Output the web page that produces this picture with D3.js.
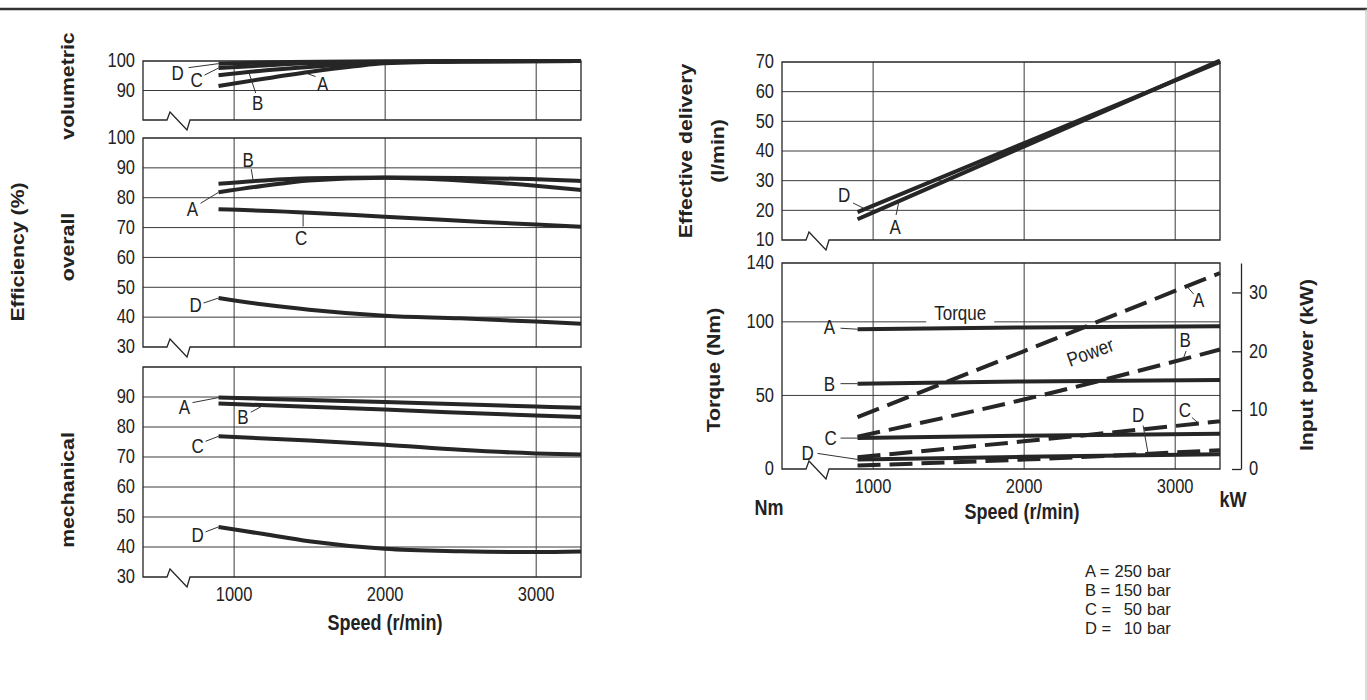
<!DOCTYPE html>
<html>
<head>
<meta charset="utf-8">
<script src="https://cdn.jsdelivr.net/npm/d3@7"></script>
<style>
  body { margin: 0; background: #fff; }
  text { font-family: "Liberation Sans", Arial, Helvetica, sans-serif; fill: #222; }
  .title { font-weight: bold; font-size: 18px; }
  .lbl { font-size: 17px; }
  .legend { font-size: 16.5px; }
</style>
</head>
<body>
<svg id="chart" width="1367" height="700"></svg>
<script>
// ---- data ----
var speedTicks = [1000, 2000, 3000]

// volumetric efficiency (%)
var volA = [[900, 91.5], [1200, 94], [1500, 96.3], [1800, 98.2], [2000, 99.2], [2500, 99.8], [3300, 100]]
var volB = [[900, 95.2], [1200, 96.8], [1500, 98], [1800, 99], [2000, 99.5], [2500, 99.9], [3300, 100]]
var volC = [[900, 97.6], [1200, 98.5], [1500, 99.2], [2000, 99.7], [3300, 100]]
var volD = [[900, 99.1], [1200, 99.5], [2000, 99.9], [3300, 100]]

// overall efficiency (%)
var ovA = [[900, 81.8], [1200, 84], [1500, 85.8], [2000, 86.7], [2500, 85.8], [3000, 84], [3300, 82.6]]
var ovB = [[900, 84.7], [1200, 85.8], [1500, 86.5], [2000, 86.8], [2500, 86.6], [3000, 86.2], [3300, 85.6]]
var ovC = [[900, 76.1], [1500, 75], [2000, 73.6], [2500, 72.3], [3000, 71], [3300, 70.3]]
var ovD = [[900, 46.4], [1200, 44.2], [1500, 42.5], [2000, 40.5], [2500, 39.6], [3000, 38.5], [3300, 37.8]]

// mechanical efficiency (%)
var meA = [[900, 89.8], [2000, 88.3], [3000, 86.8], [3300, 86.4]]
var meB = [[900, 87.8], [2000, 85.8], [3000, 83.8], [3300, 83.3]]
var meC = [[900, 76.9], [1500, 75.5], [2000, 74.1], [2500, 72.4], [3000, 71.2], [3300, 70.8]]
var meD = [[900, 46.7], [1200, 44.3], [1500, 41.9], [2000, 39.4], [2500, 38.6], [3000, 38.3], [3300, 38.5]]

// effective delivery (l/min)
var delA = [[900, 17], [2000, 41.5], [3300, 70.5]]
var delD = [[900, 19.4], [2000, 42.6], [3300, 70]]

// torque (Nm), solid
var tqA = [[900, 95], [2000, 96.2], [3300, 97]]
var tqB = [[900, 58], [2000, 59.5], [3300, 60.5]]
var tqC = [[900, 21], [2000, 22.6], [3300, 24]]
var tqD = [[900, 6.5], [2000, 8.3], [3300, 10]]

// input power (kW), dashed
var pwA = [[900, 8.8], [2000, 20], [3300, 33.3]]
var pwB = [[900, 5.5], [2000, 11.8], [3300, 20.3]]
var pwC = [[900, 2.0], [2000, 4.7], [3300, 8.1]]
var pwD = [[900, 0.6], [2000, 1.6], [3300, 3.2]]

var legendLetters = ['A', 'B', 'C', 'D']
var legendBar = [250, 150, 50, 10]

// ---- layout ----
var svg = d3.select('#chart')
var INK = '#262626'
var STRETCH = 1.18   // the scan is a little taller than wide

function valueAt (series, rpm) {
  var i = d3.bisector(function (d) { return d[0] }).left(series, rpm)
  if (i <= 0) return series[0][1]
  if (i >= series.length) return series[series.length - 1][1]
  var a = series[i - 1], b = series[i]
  return a[1] + (rpm - a[0]) / (b[0] - a[0]) * (b[1] - a[1])
}

function put (sel, x, y) {
  return sel.attr('transform', 'translate(' + x + ',' + y + ') scale(1,' + STRETCH + ')')
}

function panel (x, y, yTicks, gridTicks, showX) {
  var g = svg.append('g')
  var x0 = x.range()[0], x1 = x.range()[1]
  var bot = y.range()[0], top = y.range()[1]
  // horizontal grid
  g.selectAll('line.hg').data(gridTicks).enter().append('line')
    .attr('x1', x0).attr('x2', x1)
    .attr('y1', function (d) { return y(d) }).attr('y2', function (d) { return y(d) })
    .attr('stroke', '#3a3a3a').attr('stroke-width', 1)
  // y labels
  var ya = g.append('g').attr('transform', 'translate(' + x0 + ',0)')
    .call(d3.axisLeft(y).tickValues(yTicks).tickSize(0).tickPadding(8))
  ya.select('.domain').remove()
  ya.attr('font-size', 16.5).attr('font-family', null)
  ya.selectAll('text').attr('transform', 'scale(1,' + STRETCH + ')').attr('dy', '0.3em')
  // vertical grid + x labels
  var xa = g.append('g').attr('transform', 'translate(0,' + bot + ')')
    .call(d3.axisBottom(x).tickValues(speedTicks).tickSize(-(bot - top)).tickPadding(9)
      .tickFormat(showX ? d3.format('d') : ''))
  xa.select('.domain').remove()
  xa.selectAll('.tick line').attr('stroke', '#3a3a3a')
  xa.attr('font-size', 16.5).attr('font-family', null)
  xa.selectAll('text').attr('transform', 'scale(1,' + STRETCH + ')')
  // frame with axis break
  var p = d3.path()
  p.moveTo(x0, top); p.lineTo(x1, top); p.lineTo(x1, bot)
  p.lineTo(x0 + 47, bot); p.lineTo(x0 + 44, bot + 10); p.lineTo(x0 + 27, bot - 8)
  p.lineTo(x0 + 24, bot); p.lineTo(x0, bot); p.closePath()
  g.append('path').attr('d', p.toString()).attr('fill', 'none')
    .attr('stroke', INK).attr('stroke-width', 1.3)
  return g
}

function drawLine (g, x, y, series, dashed) {
  var line = d3.line()
    .x(function (d) { return x(d[0]) })
    .y(function (d) { return y(d[1]) })
    .curve(d3.curveMonotoneX)
  g.append('path').attr('d', line(series))
    .attr('fill', 'none').attr('stroke', INK).attr('stroke-width', 4)
    .attr('stroke-dasharray', dashed ? '23,9' : null)
}

// ann: [label, series, rpm, dx, dy, lx, ly]
function annotate (g, x, y, anns) {
  anns.forEach(function (a) {
    var ax = x(a[2]), ay = y(valueAt(a[1], a[2]))
    g.append('line').attr('x1', ax + a[5]).attr('y1', ay + a[6]).attr('x2', ax).attr('y2', ay)
      .attr('stroke', '#333').attr('stroke-width', 1)
    put(g.append('text').attr('class', 'lbl'), ax + a[3], ay + a[4])
      .attr('dy', '0.36em').attr('text-anchor', 'middle').text(a[0])
  })
}

// scales
var xL = d3.scaleLinear().domain([400, 3300]).range([143, 581])
var xR = d3.scaleLinear().domain([400, 3300]).range([782, 1220])

var yVol = d3.scaleLinear().domain([80, 100]).range([120, 61])
var yOv = d3.scaleLinear().domain([30, 100]).range([347, 138])
var yMe = d3.scaleLinear().domain([30, 100]).range([577, 367])
var yDel = d3.scaleLinear().domain([10, 70]).range([240, 62])
var yTq = d3.scaleLinear().domain([0, 140]).range([469, 263])
var yPw = d3.scaleLinear().domain([0, 35]).range([469, 263])

// volumetric
var gV = panel(xL, yVol, [90, 100], [90], false)
;[volA, volB, volC, volD].forEach(function (s) { drawLine(gV, xL, yVol, s) })
annotate(gV, xL, yVol, [
  ['D', volD, 900, -41, 9, -30, 4],
  ['C', volC, 900, -22, 12, -14, 7],
  ['B', volB, 1100, 9, 31, 7, 21],
  ['A', volA, 1470, 18, 11, 11, 4]
])

// overall
var gO = panel(xL, yOv, d3.range(30, 101, 10), d3.range(40, 91, 10), false)
;[ovA, ovB, ovC, ovD].forEach(function (s) { drawLine(gO, xL, yOv, s) })
annotate(gO, xL, yOv, [
  ['B', ovB, 1130, -5, -21, -2, -12],
  ['A', ovA, 900, -26, 16, -18, 11],
  ['C', ovC, 1460, -2, 25, 0, 14],
  ['D', ovD, 900, -23, 7, -15, 5]
])

// mechanical
var gM = panel(xL, yMe, d3.range(30, 91, 10), d3.range(40, 91, 10), true)
;[meA, meB, meC, meD].forEach(function (s) { drawLine(gM, xL, yMe, s) })
annotate(gM, xL, yMe, [
  ['A', meA, 900, -34, 9, -26, 5],
  ['B', meB, 1200, -21, 12, -13, 7],
  ['C', meC, 900, -21, 9, -13, 5],
  ['D', meD, 900, -21, 8, -13, 5]
])

// effective delivery
var gD = panel(xR, yDel, d3.range(10, 71, 10), d3.range(20, 61, 10), false)
;[delA, delD].forEach(function (s) { drawLine(gD, xR, yDel, s) })
annotate(gD, xR, yDel, [
  ['D', delD, 950, -21, -14, -12, -6],
  ['A', delA, 1175, -4, 26, -3, 14]
])

// torque + power
var gT = panel(xR, yTq, [0, 50, 100, 140], [50, 100], true)
// series name tags with white backing
var torqueTag = gT.append('g').attr('transform', 'translate(' + xR(1580) + ',' + yTq(106) + ')')
torqueTag.append('rect').attr('x', -34).attr('y', -12).attr('width', 68).attr('height', 24).attr('fill', '#fff')
torqueTag.append('text').attr('class', 'lbl').attr('text-anchor', 'middle').attr('dy', '0.36em')
  .attr('transform', 'scale(1,' + STRETCH + ')').text('Torque')
var powerTag = gT.append('g')
  .attr('transform', 'translate(' + xR(2440) + ',' + yPw(19.9) + ') rotate(-20)')
powerTag.append('rect').attr('x', -30).attr('y', -12).attr('width', 60).attr('height', 24).attr('fill', '#fff')
powerTag.append('text').attr('class', 'lbl').attr('text-anchor', 'middle').attr('dy', '0.36em')
  .attr('transform', 'scale(1,' + STRETCH + ')').text('Power')

;[tqA, tqB, tqC, tqD].forEach(function (s) { drawLine(gT, xR, yTq, s) })
;[pwA, pwB, pwC, pwD].forEach(function (s) { drawLine(gT, xR, yPw, s, true) })
annotate(gT, xR, yTq, [
  ['A', tqA, 900, -28, -2, -17, -1],
  ['B', tqB, 900, -28, 0, -17, 0],
  ['C', tqC, 900, -27, 0, -17, 0],
  ['D', tqD, 900, -50, -7, -40, -6]
])
annotate(gT, xR, yPw, [
  ['A', pwA, 3080, 12, 14, 7, 8],
  ['B', pwB, 3056, 2, -19, 3, -8],
  ['C', pwC, 3160, -14, -14, -7, -6],
  ['D', pwD, 2824, -10, -39, -5, -28]
])

// power axis on the right
var pa = svg.append('g').attr('transform', 'translate(1241,0)')
  .call(d3.axisRight(yPw).tickValues([0, 10, 20, 30]).tickSizeInner(-9).tickSizeOuter(0).tickPadding(8))
pa.attr('font-size', 16.5).attr('font-family', null)
pa.selectAll('path, line').attr('stroke', INK).attr('stroke-width', 1.3)
pa.selectAll('text').attr('transform', 'scale(1,' + STRETCH + ')').attr('dy', '0.3em')

// ---- titles ----
function vtitle (x, y, txt) {
  svg.append('text').attr('class', 'title').attr('text-anchor', 'middle')
    .attr('transform', 'translate(' + x + ',' + y + ') rotate(-90) scale(' + STRETCH + ',1)')
    .attr('dy', '0.35em').text(txt)
}
vtitle(18, 252, 'Efficiency (%)')
vtitle(68, 86, 'volumetric')
vtitle(68, 247, 'overall')
vtitle(68, 490, 'mechanical')
vtitle(686, 151, 'Effective delivery')
vtitle(718, 151, '(l/min)')
vtitle(714, 370, 'Torque (Nm)')
vtitle(1307, 365, 'Input power (kW)')

function htitle (x, y, txt) {
  put(svg.append('text').attr('class', 'title'), x, y)
    .attr('text-anchor', 'middle').attr('dy', '0.35em').text(txt)
}
htitle(385, 623, 'Speed (r/min)')
htitle(1022, 512, 'Speed (r/min)')
htitle(769, 508, 'Nm')
htitle(1233, 500, 'kW')

// legend, one text per row so the rows never collide
var lg = svg.append('g').attr('class', 'legend')
legendLetters.forEach(function (k, i) {
  var row = lg.append('text').attr('y', 571 + i * 19).attr('dy', '0.35em')
  row.append('tspan').attr('x', 1085).text(k + ' =')
  row.append('tspan').attr('x', 1142).attr('text-anchor', 'end').text(legendBar[i])
  row.append('tspan').attr('x', 1147).text('bar')
})

// page frame
svg.append('line').attr('x1', 0).attr('x2', 1367).attr('y1', 9).attr('y2', 9)
  .attr('stroke', '#333').attr('stroke-width', 2.5)
svg.append('line').attr('x1', 1366).attr('x2', 1366).attr('y1', 9).attr('y2', 700)
  .attr('stroke', '#bbb').attr('stroke-width', 1)
</script>
</body>
</html>
